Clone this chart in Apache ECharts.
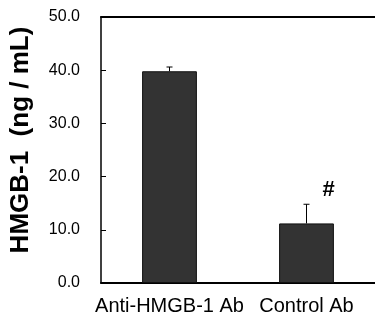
<!DOCTYPE html>
<html>
<head>
<meta charset="utf-8">
<script src="https://cdn.jsdelivr.net/npm/echarts@6/dist/echarts.min.js"></script>
<style>
  html, body { margin: 0; padding: 0; background: #fff; }
  #chart { width: 375px; height: 323px; }
</style>
</head>
<body>
<div id="chart"></div>
<script>
const categories = ['Anti-HMGB-1 Ab', 'Control Ab'];
const means = [39.8, 11.2];
const errors = [0.8, 3.6];
const marks = ['', '#'];
const yTicks = [0, 10, 20, 30, 40, 50];

const font = 'Liberation Sans, Arial, sans-serif';
const chart = echarts.init(document.getElementById('chart'));

const option = {
  animation: false,
  grid: { left: 98, top: 17, width: 286, bottom: 40 },
  xAxis: [
    {
      type: 'category',
      data: categories,
      axisLine: { lineStyle: { color: '#000', width: 2 } },
      axisTick: { inside: true, length: 3, lineStyle: { color: '#000' } },
      axisLabel: { color: '#000', fontSize: 20, fontFamily: font, margin: 13, interval: 0 }
    },
    {
      type: 'category',
      position: 'top',
      data: categories,
      axisLine: { lineStyle: { color: '#000', width: 2 } },
      axisTick: { show: false },
      axisLabel: { show: false }
    }
  ],
  yAxis: {
    type: 'value',
    min: yTicks[0],
    max: yTicks[yTicks.length - 1],
    interval: 10,
    name: 'HMGB-1  (ng / mL)',
    nameLocation: 'middle',
    nameGap: 67,
    nameTextStyle: { color: '#000', fontSize: 26, fontWeight: 'bold', fontFamily: font, padding: [0, 0, 0, 20] },
    splitLine: { show: false },
    axisLine: { show: true, lineStyle: { color: '#000', width: 1.5 } },
    axisTick: { show: true, inside: true, length: 5, lineStyle: { color: '#000' } },
    axisLabel: {
      color: '#000', fontSize: 16, fontFamily: font, margin: 21,
      formatter: v => v.toFixed(1)
    }
  },
  series: [
    {
      type: 'bar',
      data: means,
      barWidth: '40%',
      itemStyle: { color: '#333333', borderColor: '#111', borderWidth: 1 }
    },
    {
      type: 'custom',
      data: means.map((m, i) => [i, m, m + errors[i]]),
      renderItem: (params, api) => {
        const base = api.coord([api.value(0), api.value(1)]);
        const top = api.coord([api.value(0), api.value(2)]);
        const cap = 3;
        const children = [
          { type: 'line', shape: { x1: base[0], y1: base[1], x2: top[0], y2: top[1] }, style: { stroke: '#000', lineWidth: 1 } },
          { type: 'line', shape: { x1: top[0] - cap, y1: top[1], x2: top[0] + cap, y2: top[1] }, style: { stroke: '#000', lineWidth: 1 } }
        ];
        const mark = marks[params.dataIndex];
        if (mark) {
          children.push({
            type: 'text',
            style: {
              text: mark, x: top[0] + 22, y: top[1] - 14,
              align: 'center', verticalAlign: 'middle',
              font: 'bold 22px ' + font, fill: '#000'
            }
          });
        }
        return { type: 'group', children };
      },
      z: 5
    }
  ]
};

chart.setOption(option);
</script>
</body>
</html>
